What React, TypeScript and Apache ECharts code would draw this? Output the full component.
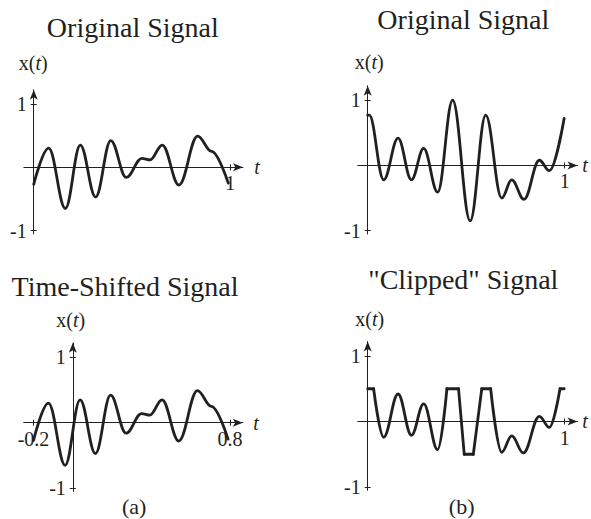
import React, { useEffect, useRef } from 'react';
import * as echarts from 'echarts';

// ---- Data (turning points of each waveform) ----
// (a) original signal
const origT1 = [0, 0.076, 0.161, 0.237, 0.315, 0.392, 0.471, 0.55, 0.592, 0.654, 0.739, 0.834, 0.905, 0.99];
const origX1 = [-0.27, 0.3, -0.65, 0.35, -0.47, 0.42, -0.16, 0.14, 0.115, 0.35, -0.28, 0.49, 0.25, -0.25];
// (a) time shift applied to the same signal
const timeShift = 0.2;
// (b) original signal
const origT2 = [0, 0.008, 0.081, 0.154, 0.222, 0.284, 0.355, 0.431, 0.52, 0.599, 0.68, 0.731, 0.793, 0.871, 0.922, 0.997];
const origX2 = [0.77, 0.77, -0.22, 0.42, -0.22, 0.26, -0.41, 1.0, -0.85, 0.77, -0.5, -0.22, -0.52, 0.08, -0.08, 0.72];
// (b) clipped signal (clip corners and turning points)
const clipLevel = 0.5;
const clipT = [0, 0.03, 0.081, 0.154, 0.222, 0.284, 0.355, 0.402, 0.461, 0.49, 0.536, 0.579, 0.624, 0.68, 0.731, 0.79, 0.871, 0.922, 0.976, 0.997];
const clipX = [0.5, 0.5, -0.24, 0.42, -0.21, 0.27, -0.43, 0.5, 0.5, -0.5, -0.5, 0.5, 0.5, -0.47, -0.22, -0.48, 0.08, -0.09, 0.5, 0.5];
// tick labels
const yTicks = [-1, 1];
const xTicksA = [1];
const xTicksShifted = [-0.2, 0.8];
const titles = ['Original Signal', 'Original Signal', 'Time-Shifted Signal', '"Clipped" Signal'];
const captions = ['(a)', '(b)'];

const FONT = "'Liberation Serif', 'Times New Roman', serif";
const INK = '#231f20';

const pair = (ts: number[], vs: number[]) => ts.map((t, i) => [t, vs[i]]);

export default function App() {
  const ref = useRef<HTMLDivElement>(null);
  useEffect(() => {
    if (!ref.current) return;
    const chart = echarts.init(ref.current, undefined, { renderer: 'svg' });

    const yMin = -1.05, yMax = 1.22;
    const panels = [
      { left: 23.9, top: 89.8, width: 219.1, height: 144.1, xMin: -0.05, xMax: 1.065, xTicks: xTicksA },
      { left: 357.85, top: 85.8, width: 219.7, height: 148.2, xMin: -0.05, xMax: 1.065, xTicks: xTicksA },
      { left: 23.7, top: 342.8, width: 219.1, height: 148.7, xMin: -0.25, xMax: 0.865, xTicks: xTicksShifted },
      { left: 357.85, top: 341.6, width: 219.7, height: 148.7, xMin: -0.05, xMax: 1.065, xTicks: xTicksA },
    ];

    const grid: any[] = [];
    const xAxis: any[] = [];
    const yAxis: any[] = [];
    const lineStyle = { color: INK, width: 1 };
    const tickStyle = { color: INK, width: 1 };
    const labelStyle = { fontFamily: FONT, fontSize: 20, color: INK };
    panels.forEach((p, i) => {
      grid.push({ left: p.left, top: p.top, width: p.width, height: p.height, containLabel: false, outerBoundsMode: 'none' });
      const zeroFromBottom = (p.height * (0 - yMin)) / (yMax - yMin);
      const zeroFromLeft = (p.width * (0 - p.xMin)) / (p.xMax - p.xMin);
      const xBase = { type: 'value', gridIndex: i, min: p.xMin, max: p.xMax, splitLine: { show: false } };
      const yBase = { type: 'value', gridIndex: i, min: yMin, max: yMax, splitLine: { show: false } };
      // x: line + arrow + downward ticks
      xAxis.push({
        ...xBase, position: 'bottom',
        axisLine: { show: true, onZero: true, lineStyle, symbol: ['none', 'arrow'], symbolSize: [6, 10] },
        axisTick: { show: true, length: 3, lineStyle: tickStyle, customValues: p.xTicks },
        axisLabel: { show: false },
      });
      // x: upward ticks
      xAxis.push({
        ...xBase, position: 'top',
        axisLine: { show: false, onZero: true },
        axisTick: { show: true, length: 3, lineStyle: tickStyle, customValues: p.xTicks },
        axisLabel: { show: false },
      });
      // x: tick labels, shifted up onto the zero line
      xAxis.push({
        ...xBase, position: 'bottom', offset: -zeroFromBottom,
        axisLine: { show: false, onZero: false },
        axisTick: { show: false },
        axisLabel: { show: true, customValues: p.xTicks, margin: 6, ...labelStyle },
      });
      // y: line + arrow + left ticks
      yAxis.push({
        ...yBase, position: 'left',
        axisLine: { show: true, onZero: true, lineStyle, symbol: ['none', 'arrow'], symbolSize: [6, 10] },
        axisTick: { show: true, length: 3, lineStyle: tickStyle, customValues: yTicks },
        axisLabel: { show: false },
      });
      // y: right ticks
      yAxis.push({
        ...yBase, position: 'right',
        axisLine: { show: false, onZero: true },
        axisTick: { show: true, length: 3, lineStyle: tickStyle, customValues: yTicks },
        axisLabel: { show: false },
      });
      // y: tick labels, shifted right onto the zero line
      yAxis.push({
        ...yBase, position: 'left', offset: -zeroFromLeft,
        axisLine: { show: false, onZero: false },
        axisTick: { show: false },
        axisLabel: { show: true, customValues: yTicks, margin: 7, ...labelStyle },
      });
    });

    const curve = (data: any[], idx: number, smooth: any, monotone = true) => ({
      type: 'line', xAxisIndex: idx * 3, yAxisIndex: idx * 3, data, smooth,
      smoothMonotone: monotone ? 'x' : undefined,
      symbol: 'none', connectNulls: false, silent: true,
      lineStyle: { color: INK, width: 2.8, cap: 'round', join: 'round' },
    });

    // clipped signal: flat (clipped) runs drawn straight, the rest smooth
    const smoothPart: any[] = [];
    const flatPart: any[] = [];
    for (let i = 0; i < clipT.length; i++) {
      const isFlatStart = i + 1 < clipT.length && Math.abs(clipX[i]) === clipLevel && clipX[i + 1] === clipX[i];
      const isFlatEnd = i > 0 && Math.abs(clipX[i]) === clipLevel && clipX[i - 1] === clipX[i];
      smoothPart.push([clipT[i], clipX[i]]);
      if (isFlatStart) {
        smoothPart.push([(clipT[i] + clipT[i + 1]) / 2, '-']);
        flatPart.push([clipT[i], clipX[i]]);
      } else if (isFlatEnd) {
        flatPart.push([clipT[i], clipX[i]]);
        flatPart.push([clipT[i] + 0.0001, '-']);
      }
    }

    const S = 0.38;
    const series = [
      curve(pair(origT1, origX1), 0, S),
      curve(pair(origT2, origX2), 1, S),
      curve(pair(origT1.map((t) => t - timeShift), origX1), 2, S),
      curve(smoothPart, 3, S),
      curve(flatPart, 3, false, false),
    ];

    const txt = (text: string, x: number, y: number, size: number, extra: any = {}) => ({
      type: 'text', x, y, silent: true, z: 100,
      style: { text, fontFamily: FONT, fontSize: size, fill: INK, align: 'center', verticalAlign: 'middle', ...extra },
    });
    const xt = (x: number, y: number) => ({
      type: 'text', x, y, silent: true, z: 100,
      style: {
        text: '{n|x(}{i|t}{n|)}', align: 'center', verticalAlign: 'middle', fontFamily: FONT, fontSize: 20, fill: INK,
        rich: {
          n: { fontFamily: FONT, fontSize: 20, fill: INK },
          i: { fontFamily: FONT, fontSize: 20, fontStyle: 'italic', fill: INK },
        },
      },
    });

    const graphic = [
      txt(titles[0], 132.8, 27.8, 28),
      txt(titles[1], 463.3, 19.8, 28),
      txt(titles[2], 125, 286.5, 28),
      txt(titles[3], 463.3, 279.8, 28),
      xt(33.3, 63.2),
      xt(369.3, 62),
      xt(70.8, 320),
      xt(369.7, 319),
      txt('t', 257, 166.5, 20, { fontStyle: 'italic' }),
      txt('t', 585, 165, 20, { fontStyle: 'italic' }),
      txt('t', 256, 423.2, 20, { fontStyle: 'italic' }),
      txt('t', 585, 420.7, 20, { fontStyle: 'italic' }),
      txt(captions[0], 134.2, 506, 22),
      txt(captions[1], 461.7, 506, 22),
    ];

    chart.setOption({
      animation: false,
      backgroundColor: '#ffffff',
      grid, xAxis, yAxis, series, graphic,
    });
    return () => chart.dispose();
  }, []);
  return <div ref={ref} style={{ position: 'absolute', left: 0, top: 0, width: 591, height: 519 }} />;
}
